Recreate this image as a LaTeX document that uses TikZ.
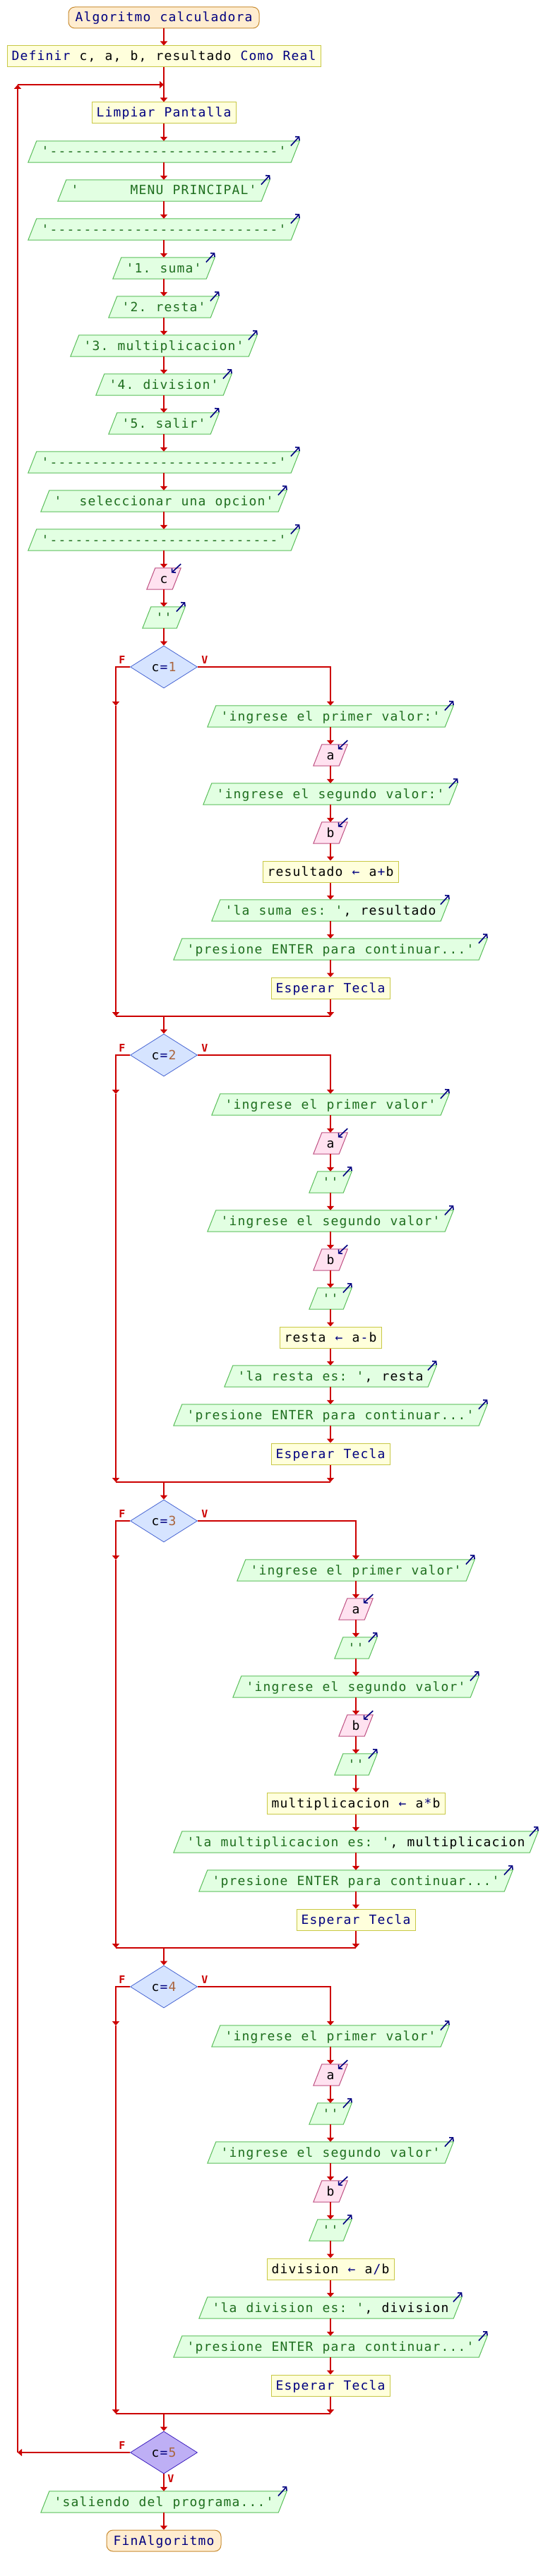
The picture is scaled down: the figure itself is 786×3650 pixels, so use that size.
\documentclass[tikz,border=0pt]{standalone}
\usepackage{fontspec}
\usetikzlibrary{shapes.geometric,arrows.meta}
\newfontfamily\pmono{DejaVu Sans Mono}
\definecolor{arrred}{RGB}{204,0,0}
\definecolor{kwc}{RGB}{0,0,128}
\definecolor{strc}{RGB}{30,110,30}
\definecolor{idc}{RGB}{0,0,0}
\definecolor{numc}{RGB}{170,100,60}
\definecolor{opc}{RGB}{0,0,128}
\definecolor{termf}{RGB}{255,237,208}
\definecolor{termb}{RGB}{200,140,50}
\definecolor{procf}{RGB}{255,255,220}
\definecolor{procb}{RGB}{200,200,70}
\definecolor{outf}{RGB}{226,255,226}
\definecolor{outb}{RGB}{90,190,90}
\definecolor{inf}{RGB}{255,226,240}
\definecolor{inb}{RGB}{190,80,130}
\definecolor{decf}{RGB}{214,228,255}
\definecolor{decb}{RGB}{70,100,210}
\definecolor{decvf}{RGB}{190,175,245}
\definecolor{decvb}{RGB}{60,30,190}
\definecolor{iconc}{RGB}{0,0,128}
\ExplSyntaxOn
\NewDocumentCommand\mt{m}{\str_map_inline:nn{#1}{\makebox[12pt]{##1}}}
\ExplSyntaxOff
\newcommand\cKw[1]{\textcolor{kwc}{\mt{#1}}}
\newcommand\cSt[1]{\textcolor{strc}{\mt{#1}}}
\newcommand\cId[1]{\textcolor{idc}{\mt{#1}}}
\newcommand\cNm[1]{\textcolor{numc}{\mt{#1}}}
\newcommand\cOp[1]{\textcolor{opc}{\mt{#1}}}
\newcommand\monosp{\kern12pt}
\pgfdeclarelayer{bgzero}
\pgfdeclarelayer{background}
\pgfsetlayers{bgzero,background,main}
\tikzset{
  flow/.style={draw=arrred, line width=2pt, -{Triangle[width=10pt,length=6pt]}},
  seg/.style={draw=arrred, line width=2pt},
  txt/.style={font=\pmono\fontsize{18pt}{20pt}\selectfont, inner ysep=0pt, minimum height=30pt, text height=14.5pt, text depth=2.5pt},
  proc/.style={txt, draw=procb, fill=procf, line width=1pt, inner xsep=6pt},
  term/.style={txt, draw=termb, fill=termf, line width=1pt, rounded corners=9pt, inner xsep=9pt},
  outtxt/.style={txt, inner xsep=12pt},
  outshape/.style={draw=outb, fill=outf, line width=1pt},
  inshape/.style={draw=inb, fill=inf, line width=1pt},
  icon/.style={draw=iconc, line width=1.6pt, -{Straight Barb[length=3.5pt,width=8pt]}},
  dec/.style={diamond, draw=decb, fill=decf, line width=0.8pt, inner sep=0pt, minimum width=95pt, minimum height=60pt, aspect=1.58, font=\pmono\fontsize{18pt}{20pt}\selectfont},
  decv/.style={dec, draw=decvb, fill=decvf},
  lab/.style={text=arrred, font=\pmono\bfseries\fontsize{15pt}{16pt}\selectfont, inner sep=0pt}
}
\newcommand\outnode[4]{%
  \node[outtxt] (#1) at (#2,#3) {#4};
  \begin{pgfonlayer}{background}
    \filldraw[outshape] ([xshift=-6pt]#1.south west) -- ([xshift=6pt]#1.north west) -- ([xshift=6pt]#1.north east) -- ([xshift=-6pt]#1.south east) -- cycle;
  \end{pgfonlayer}
  \draw[icon] ([xshift=-6.3pt,yshift=-6.7pt]#1.north east) -- ([xshift=6pt,yshift=6.7pt]#1.north east);
}
\newcommand\innode[4]{%
  \node[outtxt] (#1) at (#2,#3) {#4};
  \begin{pgfonlayer}{background}
    \filldraw[inshape] ([xshift=-6pt]#1.south west) -- ([xshift=6pt]#1.north west) -- ([xshift=6pt]#1.north east) -- ([xshift=-6pt]#1.south east) -- cycle;
  \end{pgfonlayer}
  \draw[icon] ([xshift=6pt,yshift=5.7pt]#1.north east) -- ([xshift=-7.3pt,yshift=-6.7pt]#1.north east);
}
\begin{document}
\begin{tikzpicture}[x=1pt,y=-1pt]
\begin{pgfonlayer}{bgzero}
\fill[white] (0,0) rectangle (786,3650);
\end{pgfonlayer}
\useasboundingbox (0,0) rectangle (786,3650);
% main column
\node[term] (title) at (232,25) {\cKw{Algoritmo calculadora}};
\node[proc] (def) at (232,80) {\cKw{Definir}\monosp\cId{c, a, b, resultado}\monosp\cKw{Como Real}};
\node[proc] (limp) at (232,160) {\cKw{Limpiar Pantalla}};
\outnode{m1}{232}{215}{\cSt{'---------------------------'}}
\outnode{m2}{232}{270}{\cSt{'}\kern72pt\cSt{MENU PRINCIPAL'}}
\outnode{m3}{232}{325}{\cSt{'---------------------------'}}
\outnode{m4}{232}{380}{\cSt{'1. suma'}}
\outnode{m5}{232}{435}{\cSt{'2. resta'}}
\outnode{m6}{232}{490}{\cSt{'3. multiplicacion'}}
\outnode{m7}{232}{545}{\cSt{'4. division'}}
\outnode{m8}{232}{600}{\cSt{'5. salir'}}
\outnode{m9}{232}{655}{\cSt{'---------------------------'}}
\outnode{m10}{232}{710}{\cSt{'}\kern24pt\cSt{seleccionar una opcion'}}
\outnode{m11}{232}{765}{\cSt{'---------------------------'}}
\innode{inc}{232}{820}{\cId{c}}
\outnode{m12}{232}{875}{\cSt{''}}
\node[dec] (d1) at (232,945) {\cId{c}\cOp{=}\cNm{1}};
\foreach \a/\b in {title/def,def/limp,limp/m1,m1/m2,m2/m3,m3/m4,m4/m5,m5/m6,m6/m7,m7/m8,m8/m9,m9/m10,m10/m11,m11/inc,inc/m12,m12/d1}
  \draw[flow] (\a.south) -- (\b.north);
% branch 1
\outnode{b1a}{468}{1015}{\cSt{'ingrese el primer valor:'}}
\innode{b1b}{468}{1070}{\cId{a}}
\outnode{b1c}{468}{1125}{\cSt{'ingrese el segundo valor:'}}
\innode{b1d}{468}{1180}{\cId{b}}
\node[proc] (b1e) at (468,1235) {\cId{resultado}\monosp\cOp{←}\monosp\cId{a}\cOp{+}\cId{b}};
\outnode{b1f}{468}{1290}{\cSt{'la suma es: '}\cId{, resultado}}
\outnode{b1g}{468}{1345}{\cSt{'presione ENTER para continuar...'}}
\node[proc] (b1h) at (468,1400) {\cKw{Esperar Tecla}};
\foreach \a/\b in {b1a/b1b,b1b/b1c,b1c/b1d,b1d/b1e,b1e/b1f,b1f/b1g,b1g/b1h}
  \draw[flow] (\a.south) -- (\b.north);
\coordinate (f1) at (164,1000);
\coordinate (j1l) at (164,1440);
\coordinate (j1r) at (468,1440);
\coordinate (j1c) at (232,1440);
\draw[flow] (d1.west) -| (f1);
\draw[flow] (f1) -- (j1l);
\draw[flow] (d1.east) -| (b1a.north);
\draw[flow] (b1h.south) -- (j1r);
\draw[seg] (j1l) -- (j1r);
\node[lab] (F1) at (173,935) {F};
\node[lab] (V1) at (290,935) {V};
% decision 2
\node[dec] (d2) at (232,1495) {\cId{c}\cOp{=}\cNm{2}};
\draw[flow] (j1c) -- (d2.north);
\outnode{b2a}{468}{1565}{\cSt{'ingrese el primer valor'}}
\innode{b2b}{468}{1620}{\cId{a}}
\outnode{b2c}{468}{1675}{\cSt{''}}
\outnode{b2d}{468}{1730}{\cSt{'ingrese el segundo valor'}}
\innode{b2e}{468}{1785}{\cId{b}}
\outnode{b2f}{468}{1840}{\cSt{''}}
\node[proc] (b2g) at (468,1895) {\cId{resta}\monosp\cOp{←}\monosp\cId{a}\cOp{-}\cId{b}};
\outnode{b2h}{468}{1950}{\cSt{'la resta es: '}\cId{, resta}}
\outnode{b2i}{468}{2005}{\cSt{'presione ENTER para continuar...'}}
\node[proc] (b2j) at (468,2060) {\cKw{Esperar Tecla}};
\foreach \a/\b in {b2a/b2b,b2b/b2c,b2c/b2d,b2d/b2e,b2e/b2f,b2f/b2g,b2g/b2h,b2h/b2i,b2i/b2j}
  \draw[flow] (\a.south) -- (\b.north);
\coordinate (f2) at (164,1550);
\coordinate (j2l) at (164,2100);
\coordinate (j2r) at (468,2100);
\coordinate (j2c) at (232,2100);
\draw[flow] (d2.west) -| (f2);
\draw[flow] (f2) -- (j2l);
\draw[flow] (d2.east) -| (b2a.north);
\draw[flow] (b2j.south) -- (j2r);
\draw[seg] (j2l) -- (j2r);
\node[lab] (F2) at (173,1485) {F};
\node[lab] (V2) at (290,1485) {V};
% decision 3
\node[dec] (d3) at (232,2155) {\cId{c}\cOp{=}\cNm{3}};
\draw[flow] (j2c) -- (d3.north);
\outnode{b3a}{504}{2225}{\cSt{'ingrese el primer valor'}}
\innode{b3b}{504}{2280}{\cId{a}}
\outnode{b3c}{504}{2335}{\cSt{''}}
\outnode{b3d}{504}{2390}{\cSt{'ingrese el segundo valor'}}
\innode{b3e}{504}{2445}{\cId{b}}
\outnode{b3f}{504}{2500}{\cSt{''}}
\node[proc] (b3g) at (504,2555) {\cId{multiplicacion}\monosp\cOp{←}\monosp\cId{a}\cOp{*}\cId{b}};
\outnode{b3h}{504}{2610}{\cSt{'la multiplicacion es: '}\cId{, multiplicacion}}
\outnode{b3i}{504}{2665}{\cSt{'presione ENTER para continuar...'}}
\node[proc] (b3j) at (504,2720) {\cKw{Esperar Tecla}};
\foreach \a/\b in {b3a/b3b,b3b/b3c,b3c/b3d,b3d/b3e,b3e/b3f,b3f/b3g,b3g/b3h,b3h/b3i,b3i/b3j}
  \draw[flow] (\a.south) -- (\b.north);
\coordinate (f3) at (164,2210);
\coordinate (j3l) at (164,2760);
\coordinate (j3r) at (504,2760);
\coordinate (j3c) at (232,2760);
\draw[flow] (d3.west) -| (f3);
\draw[flow] (f3) -- (j3l);
\draw[flow] (d3.east) -| (b3a.north);
\draw[flow] (b3j.south) -- (j3r);
\draw[seg] (j3l) -- (j3r);
\node[lab] (F3) at (173,2145) {F};
\node[lab] (V3) at (290,2145) {V};
% decision 4
\node[dec] (d4) at (232,2815) {\cId{c}\cOp{=}\cNm{4}};
\draw[flow] (j3c) -- (d4.north);
\outnode{b4a}{468}{2885}{\cSt{'ingrese el primer valor'}}
\innode{b4b}{468}{2940}{\cId{a}}
\outnode{b4c}{468}{2995}{\cSt{''}}
\outnode{b4d}{468}{3050}{\cSt{'ingrese el segundo valor'}}
\innode{b4e}{468}{3105}{\cId{b}}
\outnode{b4f}{468}{3160}{\cSt{''}}
\node[proc] (b4g) at (468,3215) {\cId{division}\monosp\cOp{←}\monosp\cId{a}\cOp{/}\cId{b}};
\outnode{b4h}{468}{3270}{\cSt{'la division es: '}\cId{, division}}
\outnode{b4i}{468}{3325}{\cSt{'presione ENTER para continuar...'}}
\node[proc] (b4j) at (468,3380) {\cKw{Esperar Tecla}};
\foreach \a/\b in {b4a/b4b,b4b/b4c,b4c/b4d,b4d/b4e,b4e/b4f,b4f/b4g,b4g/b4h,b4h/b4i,b4i/b4j}
  \draw[flow] (\a.south) -- (\b.north);
\coordinate (f4) at (164,2870);
\coordinate (j4l) at (164,3420);
\coordinate (j4r) at (468,3420);
\coordinate (j4c) at (232,3420);
\draw[flow] (d4.west) -| (f4);
\draw[flow] (f4) -- (j4l);
\draw[flow] (d4.east) -| (b4a.north);
\draw[flow] (b4j.south) -- (j4r);
\draw[seg] (j4l) -- (j4r);
\node[lab] (F4) at (173,2805) {F};
\node[lab] (V4) at (290,2805) {V};
% decision 5 (loop condition)
\node[decv] (d5) at (232,3475) {\cId{c}\cOp{=}\cNm{5}};
\draw[flow] (j4c) -- (d5.north);
\outnode{sal}{232}{3545}{\cSt{'saliendo del programa...'}}
\node[term] (fin) at (232,3600) {\cKw{FinAlgoritmo}};
\draw[flow] (d5.south) -- (sal.north);
\draw[flow] (sal.south) -- (fin.north);
\coordinate (l1) at (25,3475);
\coordinate (l2) at (25,120);
\coordinate (l3) at (232,120);
\draw[flow] (d5.west) -- (l1);
\draw[flow] (l1) -- (l2);
\draw[flow] (l2) -- (l3);
\node[lab] (F5) at (173,3465) {F};
\node[lab] (V5) at (242,3512) {V};
\end{tikzpicture}
\end{document}
